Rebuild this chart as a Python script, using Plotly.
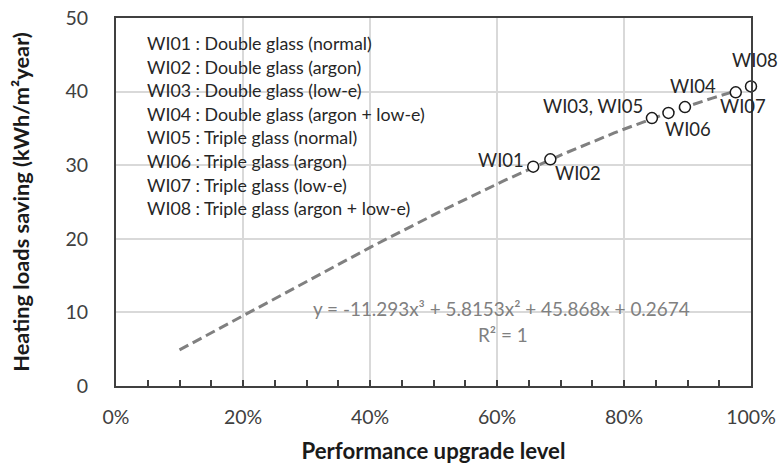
import plotly.graph_objects as go

# ---- data ----
point_labels = ["WI01", "WI02", "WI03, WI05", "WI06", "WI04", "WI07", "WI08"]
upgrade_level = [0.657, 0.684, 0.844, 0.870, 0.896, 0.976, 1.0]
heating_saving = [29.8, 30.8, 36.4, 37.1, 37.9, 39.9, 40.7]

legend_lines = [
    "WI01 : Double glass (normal)",
    "WI02 : Double glass (argon)",
    "WI03 : Double glass (low-e)",
    "WI04 : Double glass (argon + low-e)",
    "WI05 : Triple glass (normal)",
    "WI06 : Triple glass (argon)",
    "WI07 : Triple glass (low-e)",
    "WI08 : Triple glass (argon + low-e)",
]

# fitted trendline coefficients shown on the chart (cubic, highest order first)
trend_coef = [-11.293, 5.8153, 45.868, 0.2674]
trend_range = [0.10, 0.976]
equation_text = "y = -11.293x³ + 5.8153x² + 45.868x + 0.2674"
r2_text = "R² = 1"

x_ticks = [0, 0.2, 0.4, 0.6, 0.8, 1.0]
x_tick_labels = ["0%", "20%", "40%", "60%", "80%", "100%"]
y_ticks = [0, 10, 20, 30, 40, 50]

# ---- trendline ----
n = 120
tx = [trend_range[0] + (trend_range[1] - trend_range[0]) * i / (n - 1) for i in range(n)]
ty = [trend_coef[0] * x**3 + trend_coef[1] * x**2 + trend_coef[2] * x + trend_coef[3] for x in tx]

FONT = "Lato"
fig = go.Figure()
fig.add_trace(go.Scatter(x=tx, y=ty, mode="lines",
                         line=dict(color="#808080", width=3, dash="10px,5px"),
                         hoverinfo="skip", showlegend=False))
fig.add_trace(go.Scatter(x=upgrade_level, y=heating_saving, mode="markers",
                         marker=dict(symbol="circle", size=11, color="white",
                                     line=dict(color="#1a1a1a", width=1.5)),
                         showlegend=False, cliponaxis=False))

# data labels: (xanchor, yanchor, xshift, yshift)
label_pos = [
    ("right", "middle", -7, 7),
    ("left", "top", 3, -1),
    ("right", "middle", -7, 12),
    ("center", "top", 20, -3),
    ("center", "bottom", 8, 8),
    ("left", "top", -18, -1),
    ("center", "bottom", 4, 13),
]
annotations = []
for lab, x, y, (xa, ya, xs, ys) in zip(point_labels, upgrade_level, heating_saving, label_pos):
    annotations.append(dict(x=x, y=y, xref="x", yref="y", text=lab, showarrow=False,
                            xanchor=xa, yanchor=ya, xshift=xs, yshift=ys,
                            font=dict(family=FONT, size=18.5, color="#262626")))

# description list in the top-left corner
plot_top, plot_bot = 18, 386
for i, line in enumerate(legend_lines):
    ypix = 43 + i * 23.6
    annotations.append(dict(x=0.045, y=(plot_bot - ypix) / (plot_bot - plot_top),
                            xref="paper", yref="paper", text=line, showarrow=False,
                            xanchor="left", yanchor="middle",
                            font=dict(family=FONT, size=17.8, color="#262626")))

annotations.append(dict(x=0.607, y=(plot_bot - 308) / (plot_bot - plot_top), xref="paper", yref="paper",
                        text=equation_text, showarrow=False, xanchor="center", yanchor="middle",
                        font=dict(family=FONT, size=18.9, color="#808080")))
annotations.append(dict(x=0.609, y=(plot_bot - 334) / (plot_bot - plot_top), xref="paper", yref="paper",
                        text=r2_text, showarrow=False, xanchor="center", yanchor="middle",
                        font=dict(family=FONT, size=18.9, color="#808080")))

fig.update_layout(
    width=781, height=464,
    margin=dict(l=116, r=30, t=18, b=78),
    paper_bgcolor="white", plot_bgcolor="white",
    font=dict(family=FONT, color="#404040"),
    annotations=annotations,
)
fig.update_xaxes(range=[0, 1], tickvals=x_ticks, ticktext=x_tick_labels, automargin=False,
                 showgrid=True, gridcolor="#d9d9d9", gridwidth=1.5,
                 showline=True, linecolor="#404040", linewidth=2, mirror=True,
                 ticks="inside", ticklen=6, tickcolor="#404040", tickwidth=1.5,
                 minor=dict(dtick=0.05, tick0=0, ticks="inside", ticklen=6,
                            tickcolor="#404040", tickwidth=1.5, showgrid=False),
                 ticklabelstandoff=13,
                 tickfont=dict(family=FONT, size=19.5, color="#404040"),
                 title=dict(text="<b>Performance upgrade level</b>", standoff=19,
                            font=dict(family=FONT, size=22.2, color="#1a1a1a")),
                 zeroline=False)
fig.update_yaxes(range=[0, 50], tickvals=y_ticks, automargin=False,
                 showgrid=True, gridcolor="#d9d9d9", gridwidth=1.5,
                 showline=True, linecolor="#404040", linewidth=2, mirror=True,
                 ticks="", ticklabelstandoff=22,
                 tickfont=dict(family=FONT, size=19.5, color="#404040"),
                 title=dict(text="<b>Heating loads saving (kWh/m²year)</b>", standoff=30,
                            font=dict(family=FONT, size=21.8, color="#1a1a1a")),
                 zeroline=False)

fig.write_html("out.html")
